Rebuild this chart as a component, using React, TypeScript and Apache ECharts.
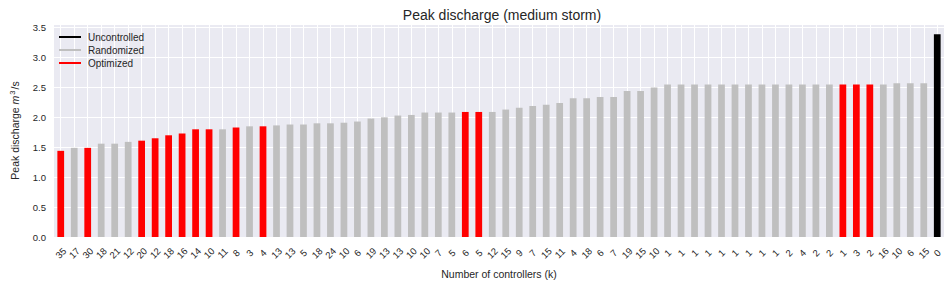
import React, { useEffect, useRef } from "react";
import * as echarts from "echarts";

const kLabels = [
  "35", "17", "30", "18", "21", "12", "20", "12", "18", "16", "14", "10", "11", "8", "3", "4",
  "13", "13", "5", "18", "24", "10", "6", "19", "13", "13", "10", "10", "7", "5", "6", "5",
  "12", "15", "9", "7", "15", "11", "4", "18", "6", "7", "19", "15", "10",
  "1", "1", "1", "1", "1", "1", "1", "1", "1", "2", "4", "2", "2", "1", "3", "2",
  "16", "10", "6", "15", "0",
];

const peakValues = [
  1.44, 1.49, 1.49, 1.56, 1.56, 1.59, 1.61, 1.65, 1.70, 1.73, 1.80, 1.80, 1.80, 1.83, 1.85, 1.85,
  1.865, 1.88, 1.88, 1.90, 1.90, 1.91, 1.93, 1.98, 2.00, 2.03, 2.04, 2.08, 2.08, 2.08, 2.09, 2.09,
  2.09, 2.13, 2.16, 2.19, 2.21, 2.24, 2.32, 2.32, 2.34, 2.34, 2.44, 2.44, 2.50,
  2.55, 2.55, 2.55, 2.55, 2.55, 2.55, 2.55, 2.55, 2.55, 2.55, 2.55, 2.55, 2.55, 2.55, 2.55, 2.55,
  2.55, 2.57, 2.57, 2.57, 3.39,
];

// U = uncontrolled, R = randomized, O = optimized
const barKinds = [
  "O", "R", "O", "R", "R", "R", "O", "O", "O", "O", "O", "O", "R", "O", "R", "O",
  "R", "R", "R", "R", "R", "R", "R", "R", "R", "R", "R", "R", "R", "R", "O", "O",
  "R", "R", "R", "R", "R", "R", "R", "R", "R", "R", "R", "R", "R",
  "R", "R", "R", "R", "R", "R", "R", "R", "R", "R", "R", "R", "R", "O", "O", "O",
  "R", "R", "R", "R", "U",
];

const legendNames = ["Uncontrolled", "Randomized", "Optimized"];
const kindColors: Record<string, string> = { U: "#000000", R: "#BFBFBF", O: "#FF0000" };
const legendColors = ["#000000", "#BFBFBF", "#FF0000"];

const FONT = "'Liberation Sans', Arial, sans-serif";
const TXT = "#262626";

export default function App() {
  const ref = useRef<HTMLDivElement>(null);
  useEffect(() => {
    document.body.style.margin = "0";
    if (!ref.current) return;
    const chart = echarts.init(ref.current, undefined, { renderer: "svg" });
    chart.setOption({
      animation: false,
      textStyle: { fontFamily: FONT },
      title: {
        text: "Peak discharge (medium storm)",
        left: 497,
        top: 3,
        textAlign: "center",
        textStyle: { fontFamily: FONT, fontSize: 14, fontWeight: "normal", color: TXT },
      },
      legend: {
        orient: "vertical",
        left: 59,
        top: 32,
        itemWidth: 22,
        itemHeight: 2,
        itemGap: 3,
        icon: "rect",
        data: legendNames,
        textStyle: { fontFamily: FONT, fontSize: 10, color: TXT, padding: [0, 0, 0, 2] },
        padding: 0,
      },
      grid: {
        left: 51,
        right: 6,
        top: 24,
        bottom: 43,
        show: true,
        backgroundColor: "#EAEAF2",
        borderWidth: 0,
      },
      xAxis: {
        type: "category",
        data: kLabels,
        boundaryGap: true,
        name: "Number of controllers (k)",
        nameLocation: "middle",
        nameGap: 31,
        nameTextStyle: { fontFamily: FONT, fontSize: 10.5, color: TXT },
        axisLine: { show: false },
        axisTick: { show: false },
        axisLabel: {
          interval: 0,
          rotate: 45,
          align: "center",
          verticalAlign: "middle",
          margin: 16,
          fontFamily: FONT,
          fontSize: 9.5,
          color: TXT,
        },
        splitLine: { show: true, alignWithLabel: true, lineStyle: { color: "#FFFFFF", width: 1 } },
      },
      yAxis: {
        type: "value",
        min: 0,
        max: 3.56,
        interval: 0.5,
        name: "{a|Peak discharge }{i|m}{s|3}{a|/s}",
        nameLocation: "middle",
        nameGap: 33,
        nameTextStyle: {
          fontFamily: FONT,
          fontSize: 10.5,
          color: TXT,
          rich: {
            a: { fontFamily: FONT, fontSize: 10.5, color: TXT },
            i: { fontFamily: FONT, fontSize: 10.5, color: TXT, fontStyle: "italic" },
            s: { fontFamily: FONT, fontSize: 7.5, color: TXT, verticalAlign: "top", padding: [0, 1, 5, 1] },
          },
        },
        axisLine: { show: false },
        axisTick: { show: false },
        axisLabel: {
          margin: 8,
          fontFamily: FONT,
          fontSize: 9.5,
          color: TXT,
          showMaxLabel: false,
          formatter: (v: number) => (Math.abs(v / 0.5 - Math.round(v / 0.5)) < 1e-6 ? v.toFixed(1) : ""),
        },
        splitLine: { show: true, lineStyle: { color: "#FFFFFF", width: 1 } },
      },
      series: [
        {
          type: "bar",
          barWidth: "50%",
          data: peakValues.map((v, i) => ({ value: v, itemStyle: { color: kindColors[barKinds[i]] } })),
        },
        ...legendNames.map((n, i) => ({
          type: "line",
          name: n,
          data: [],
          itemStyle: { color: legendColors[i] },
          lineStyle: { color: legendColors[i] },
        })),
      ],
    });
    return () => chart.dispose();
  }, []);
  return <div ref={ref} style={{ width: 950, height: 284 }} />;
}
